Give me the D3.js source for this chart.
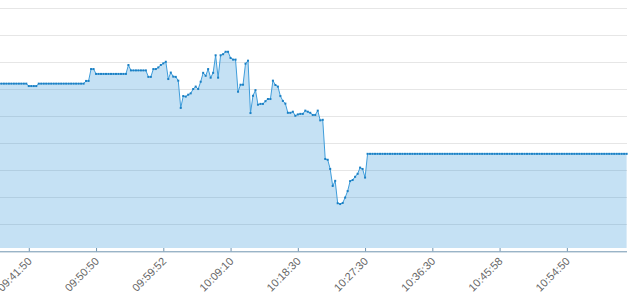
<!DOCTYPE html>
<html>
  <head>
    <title>Intraday Price</title>
    <meta charset="utf-8">
    <style>
      html, body {
        margin: 0;
        padding: 0;
        background: #fff;
      }
    </style>
  </head>
  <body>
    <script type="text/javascript" src="https://cdn.jsdelivr.net/npm/d3@7"></script>

    <div id = "chart"></div>

    <script>

      // Tick labels (one every 27 samples, starting at sample 12)
      var tickLabels = ['09:41:50','09:50:50','09:59:52','10:09:10','10:18:30',
                        '10:27:30','10:36:30','10:45:58','10:54:50']
      var firstTick = 12
      var tickStep = 27

      // Price values, one per sample (~20s apart)
      var prices = [
        62.1, 62.1, 62.1, 62.1, 62.1, 62.1, 62.1, 62.1, 62.1, 62.1, 62.1, 62.1,
        61.2, 61.2, 61.2, 61.2,
        62.1, 62.1, 62.1, 62.1, 62.1, 62.1, 62.1, 62.1, 62.1, 62.1, 62.1, 62.1, 62.1, 62.1, 62.1, 62.1, 62.1, 62.1, 62.1,
        63.1, 63.1, 67.5, 67.5,
        65.7, 65.7, 65.7, 65.7, 65.7, 65.7, 65.7, 65.7, 65.7, 65.7, 65.7, 65.7, 65.7,
        69.0, 67.0, 67.0, 67.0, 67.0, 67.0, 67.0, 67.0, 64.6, 64.6,
        67.5, 67.5, 68.1, 69.0, 69.6, 70.2, 63.8, 66.2, 64.7, 64.6,
        63.2, 53.1, 57.5, 57.3, 58.0, 58.5, 60.1, 61.0, 60.1, 62.8,
        66.1, 65.0, 67.5, 64.3, 66.1, 72.6, 64.3, 72.6, 73.0, 73.9,
        73.9, 71.6, 71.0, 71.0, 59.1, 61.7, 61.7, 69.5, 70.6, 51.2,
        57.6, 59.7, 54.3, 54.6, 54.6, 55.6, 56.4, 56.4, 63.2, 61.6,
        61.0, 57.5, 55.7, 54.7, 51.3, 51.3, 51.7, 50.2, 50.7, 50.9,
        50.9, 52.1, 51.7, 51.3, 50.5, 50.5, 52.1, 48.5, 48.7, 34.2,
        33.9, 30.5, 24.2, 26.1, 17.8, 17.5, 17.9, 19.9, 22.3, 26.0,
        26.4, 27.6, 28.7, 31.0, 30.5, 27.3,
        36.1, 36.1, 36.1, 36.1, 36.1, 36.1, 36.1, 36.1, 36.1, 36.1, 36.1, 36.1, 36.1, 36.1, 36.1,
        36.1, 36.1, 36.1, 36.1, 36.1, 36.1, 36.1, 36.1, 36.1, 36.1, 36.1, 36.1, 36.1, 36.1, 36.1,
        36.1, 36.1, 36.1, 36.1, 36.1, 36.1, 36.1, 36.1, 36.1, 36.1, 36.1, 36.1, 36.1, 36.1, 36.1,
        36.1, 36.1, 36.1, 36.1, 36.1, 36.1, 36.1, 36.1, 36.1, 36.1, 36.1, 36.1, 36.1, 36.1, 36.1,
        36.1, 36.1, 36.1, 36.1, 36.1, 36.1, 36.1, 36.1, 36.1, 36.1, 36.1, 36.1, 36.1, 36.1, 36.1,
        36.1, 36.1, 36.1, 36.1, 36.1, 36.1, 36.1, 36.1, 36.1, 36.1, 36.1, 36.1, 36.1, 36.1, 36.1,
        36.1, 36.1, 36.1, 36.1, 36.1, 36.1, 36.1, 36.1, 36.1, 36.1, 36.1, 36.1, 36.1, 36.1, 36.1
      ]

      // Horizontal grid values
      var gridValues = [10, 20, 30, 40, 50, 60, 70, 80, 90]


      var width = 636, height = 304
      var plotRight = 627
      var axisY = 251.3

      var svg = d3.select("#chart")
        .append("svg")
        .attr("width", width)
        .attr("height", height)
        .style("display", "block")

      // Scales - the left part of the plot is cut off by the frame
      var x = d3.scaleLinear()
        .domain([0, prices.length - 1])
        .range([-1.1, -1.1 + 2.491 * (prices.length - 1)])

      var y = d3.scaleLinear()
        .domain([0, 90])
        .range([axisY, 8.3])

      // Grid lines
      svg.append("g")
        .selectAll("line")
        .data(gridValues)
        .enter()
        .append("line")
        .attr("x1", 0)
        .attr("x2", plotRight)
        .attr("y1", function(d){ return Math.round(y(d)) + 0.5 })
        .attr("y2", function(d){ return Math.round(y(d)) + 0.5 })
        .attr("stroke", "#e6e6e6")
        .attr("stroke-width", 1)

      // Area under the line
      var area = d3.area()
        .x(function(d, i){ return x(i) })
        .y0(axisY - 3.3)
        .y1(function(d){ return y(d) })

      svg.append("path")
        .datum(prices)
        .attr("d", area)
        .attr("fill", "rgba(31,141,214,0.26)")

      // Line
      var line = d3.line()
        .x(function(d, i){ return x(i) })
        .y(function(d){ return y(d) })

      svg.append("path")
        .datum(prices)
        .attr("d", line)
        .attr("fill", "none")
        .attr("stroke", "#3f9ddb")
        .attr("stroke-width", 1)

      // Point markers
      svg.append("g")
        .selectAll("rect")
        .data(prices)
        .enter()
        .append("rect")
        .attr("x", function(d, i){ return x(i) - 1 })
        .attr("y", function(d){ return y(d) - 1 })
        .attr("width", 2)
        .attr("height", 2)
        .attr("fill", "#1b80c4")

      // X axis
      var tickIdx = tickLabels.map(function(d, i){ return firstTick + i * tickStep })

      var xAxis = svg.append("g")
        .attr("transform", "translate(0," + axisY + ")")
        .call(d3.axisBottom(x)
          .tickValues(tickIdx)
          .tickFormat(function(d, i){ return tickLabels[i] })
          .tickSize(-3.3)
          .tickSizeOuter(0))

      xAxis.select(".domain")
        .attr("d", "M0,0.5H" + plotRight)
        .attr("stroke", "#7094b0")

      xAxis.selectAll(".tick line")
        .attr("stroke", "#7094b0")

      xAxis.selectAll(".tick text")
        .attr("x", 0)
        .attr("y", 0)
        .attr("dy", 0)
        .attr("transform", "translate(3.2,10.6) rotate(-45)")
        .style("text-anchor", "end")
        .style("font-family", "'Liberation Sans', Arial, sans-serif")
        .style("font-size", "11px")
        .attr("fill", "#666")

    </script>
  </body>
</html>
